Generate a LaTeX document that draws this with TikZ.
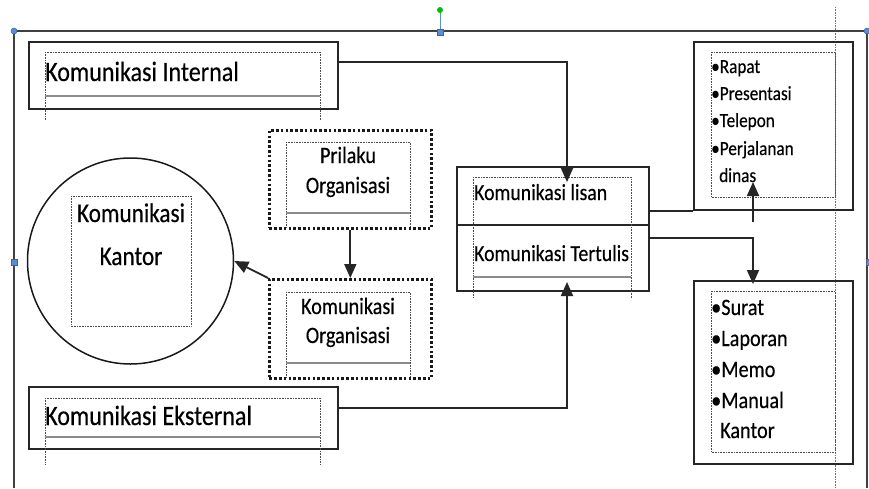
\documentclass[tikz,border=0pt]{standalone}
\usepackage{fontspec}
\setmainfont{Carlito}[FakeStretch=0.86,FakeBold=0.35]
\usetikzlibrary{arrows.meta,calc}
\definecolor{hblue}{RGB}{91,141,214}
\definecolor{hbluedark}{RGB}{60,100,170}
\newcommand\tbx[5]{%
  \draw[tboxline] (#1,#2) -- (#3,#2) -- (#3,#5) (#1,#2) -- (#1,#5);
  \draw[tboxbase] (#1,#4) -- (#3,#4);}
\begin{document}
\begin{tikzpicture}[x=1pt,y=-1pt,
  box/.style={draw=black!85, line width=1.8pt, anchor=north west, inner sep=0pt},
  dotbox/.style={draw=black!90, line width=2.6pt, dash pattern=on 2.6pt off 2.2pt, anchor=north west, inner sep=0pt},
  tboxline/.style={draw=black!70, line width=0.6pt, densely dotted},
  tboxbase/.style={draw=black!45, line width=1.3pt},
  conn/.style={draw=black!85, line width=1.8pt},
  arr/.style={conn, -{Triangle[length=14pt,width=12pt]}},
  lbl/.style={inner sep=0pt, text=black},
  big/.style={lbl, font=\fontsize{28}{30}\selectfont},
  mid/.style={lbl, font=\fontsize{23.5}{25}\selectfont},
  small/.style={lbl, font=\fontsize{20}{22}\selectfont},
  handle/.style={fill=hblue, draw=hbluedark, line width=0.5pt}]
\useasboundingbox (0,0) rectangle (869,488);
% canvas frame and guides
\draw[densely dotted, black!55, line width=0.6pt] (835,7) -- (835,488);
\draw[black!75, line width=1.8pt] (14,488) -- (14,31) -- (867,31) -- (867,488);
\draw[hblue, line width=0.8pt] (440,10) -- (440,31);
\fill[green!75!black] (440,10) circle (3);
\draw[handle] (437,29) rectangle (443,35);
\draw[handle] (11,259) rectangle (17,265);
\draw[handle] (866,259) rectangle (872,265);
\draw[handle] (14,31) circle (3);
\draw[handle] (867,31) circle (3);

% boxes
\node[box, minimum width=309pt, minimum height=67pt] (int) at (28,41) {};
\node[box, minimum width=309pt, minimum height=62pt] (ext) at (28,386) {};
\node[draw=black!90, line width=1.5pt, circle, minimum size=206pt, inner sep=0pt] (kk) at (130.5,261) {};
\node[dotbox, minimum width=162pt, minimum height=98pt] (pr) at (268,129) {};
\node[dotbox, minimum width=162pt, minimum height=99pt] (ko) at (268,278) {};
\node[box, minimum width=192pt, minimum height=124pt] (lt) at (456,166) {};
\draw[conn] (lt.west |- 0,225) -- (lt.east |- 0,225);
\node[box, minimum width=159pt, minimum height=168pt] (rb) at (693,41) {};
\node[box, minimum width=159pt, minimum height=183pt] (sb) at (693,280) {};

% inner text boxes
\tbx{45}{52}{320}{96}{120}
\tbx{45}{398}{320}{437}{465}
\draw[tboxline] (71,196) rectangle (191,326);
\tbx{286}{142}{410}{213}{227}
\tbx{286}{292}{410}{363}{377}
\tbx{473}{177}{631}{277}{298}
\draw[tboxline] (711,52) rectangle (835,197);
\draw[tboxline] (711,291) rectangle (835,452);

% texts
\node[big, anchor=base west] (tint) at (45,81) {Komunikasi Internal};
\node[big, anchor=base west] (text) at (45,425) {Komunikasi Eksternal};
\node[lbl, font=\fontsize{27}{29}\selectfont, anchor=base] (tkk1) at (131,222) {Komunikasi};
\node[lbl, font=\fontsize{27}{29}\selectfont, anchor=base] (tkk2) at (131,265) {Kantor};
\node[mid, anchor=base] (tpr1) at (348,163) {Prilaku};
\node[mid, anchor=base] (tpr2) at (348,193) {Organisasi};
\node[mid, anchor=base] (tko1) at (348,314) {Komunikasi};
\node[mid, anchor=base] (tko2) at (348,343) {Organisasi};
\node[lbl, font=\fontsize{23}{25}\selectfont, anchor=base west] (tli) at (474,200) {Komunikasi lisan};
\node[lbl, font=\fontsize{23}{25}\selectfont, anchor=base west] (tte) at (474,261) {Komunikasi Tertulis};
\node[small, anchor=base west] (r1) at (711,73) {•Rapat};
\node[small, anchor=base west] (r2) at (711,100) {•Presentasi};
\node[small, anchor=base west] (r3) at (711,127) {•Telepon};
\node[small, anchor=base west] (r4) at (711,155) {•Perjalanan};
\node[small, anchor=base west] (r5) at (719,182) {dinas};
\node[mid, anchor=base west] (s1) at (711,315) {•Surat};
\node[mid, anchor=base west] (s2) at (711,346) {•Laporan};
\node[mid, anchor=base west] (s3) at (711,377) {•Memo};
\node[mid, anchor=base west] (s4) at (711,408) {•Manual};
\node[mid, anchor=base west] (s5) at (720,438) {Kantor};

% connectors
\coordinate (a1) at (567,62);
\coordinate (a1t) at (567,182);
\draw[arr] (int.east |- a1) -- (a1) -- (a1t);
\coordinate (a2) at (567,408);
\coordinate (a2t) at (567,282);
\draw[arr] (ext.east |- a2) -- (a2) -- (a2t);
\draw[arr] (pr.south) -- (ko.north);
\draw[arr] (ko.north west) -- (kk.east);
\draw[conn] (lt.east |- rb.south west) -- (rb.south west);
\coordinate (u1) at (753,222);
\coordinate (u2) at (753,182);
\draw[arr] (u1) -- (u2);
\coordinate (t1) at (753,238);
\coordinate (t2) at (753,284);
\draw[arr] (lt.east |- t1) -- (t1) -- (t2);
\end{tikzpicture}
\end{document}
